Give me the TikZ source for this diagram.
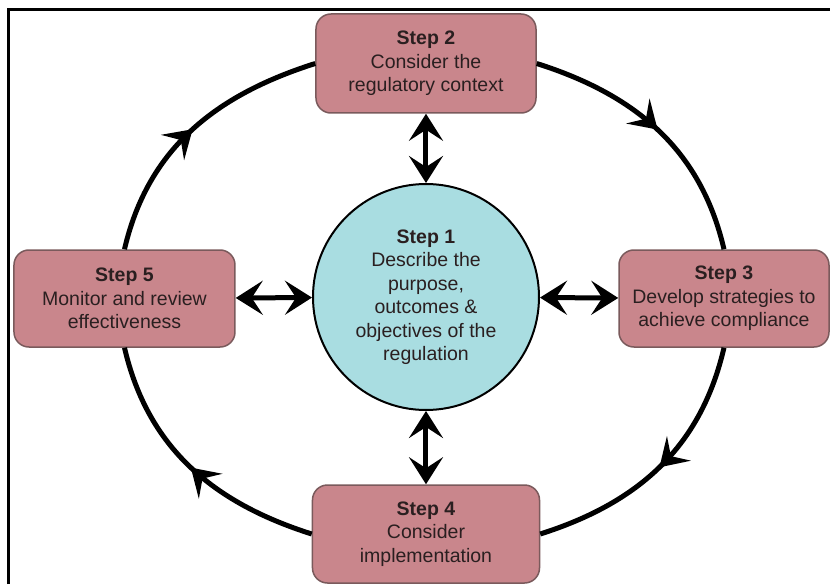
\documentclass[tikz,border=0pt]{standalone}
\usepackage{fontspec}
\setmainfont{Liberation Sans}
\usetikzlibrary{arrows.meta,decorations.markings}

\definecolor{boxred}{HTML}{C9868C}
\definecolor{boxedge}{HTML}{7A5A5C}
\definecolor{hubblue}{HTML}{A9DDE1}
\definecolor{inktext}{HTML}{2A1F20}

\begin{document}
\begin{tikzpicture}[x=1pt, y=1pt,
  ringhead/.tip={Stealth[length=27pt, width=34pt, inset=11pt]},
  stepbox/.style={draw=boxedge, line width=1.5pt, fill=boxred, rounded corners=15pt,
    align=center, text=inktext, inner sep=0pt, font=\fontsize{19.5}{23.5}\selectfont},
  hub/.style={circle, draw=black, line width=2pt, fill=hubblue, minimum size=226pt,
    align=center, text=inktext, inner sep=0pt, font=\fontsize{19.5}{23.5}\selectfont},
  ring/.style={line width=5pt, postaction={decorate},
    decoration={markings, mark=at position 0.5 with {\arrow{ringhead}}}},
  spoke/.style={line width=5pt, {ringhead}-{ringhead}}]

  \fill[white] (-426,-287) rectangle (404,297);
  \useasboundingbox (-426,-287) rectangle (404,297);

  % Frame
  \draw[line width=3pt] (-417.5,-287) -- (-417.5,287.5) -- (404,287.5);

  % Steps
  \node[hub] (s1) at (0,0)
    {\textbf{Step 1}\\Describe the\\purpose,\\outcomes \&\\objectives of the\\regulation};
  \node[stepbox, minimum width=220pt, minimum height=99pt] (s2) at (0,233.5)
    {\textbf{Step 2}\\Consider the\\regulatory context};
  \node[stepbox, minimum width=210pt, minimum height=97pt] (s3) at (298,-1.5)
    {\textbf{Step 3}\\Develop strategies to\\achieve compliance};
  \node[stepbox, minimum width=227pt, minimum height=98pt] (s4) at (0,-237)
    {\textbf{Step 4}\\Consider\\implementation};
  \node[stepbox, minimum width=221pt, minimum height=97pt] (s5) at (-301.5,-1.5)
    {\textbf{Step 5}\\Monitor and review\\effectiveness};

  % Ring
  \draw[ring] (s2.east) to[out=-17.6, in=103.1] (s3.north);
  \draw[ring] (s3.south) to[out=-103.1, in=17.6] (s4.east);
  \draw[ring] (s4.west) to[out=162.4, in=-76.9] (s5.south);
  \draw[ring] (s5.north) to[out=76.9, in=-162.4] (s2.west);

  % Spokes
  \draw[spoke] (s2) -- (s1);
  \draw[spoke] (s3) -- (s1);
  \draw[spoke] (s4) -- (s1);
  \draw[spoke] (s5) -- (s1);

\end{tikzpicture}
\end{document}
